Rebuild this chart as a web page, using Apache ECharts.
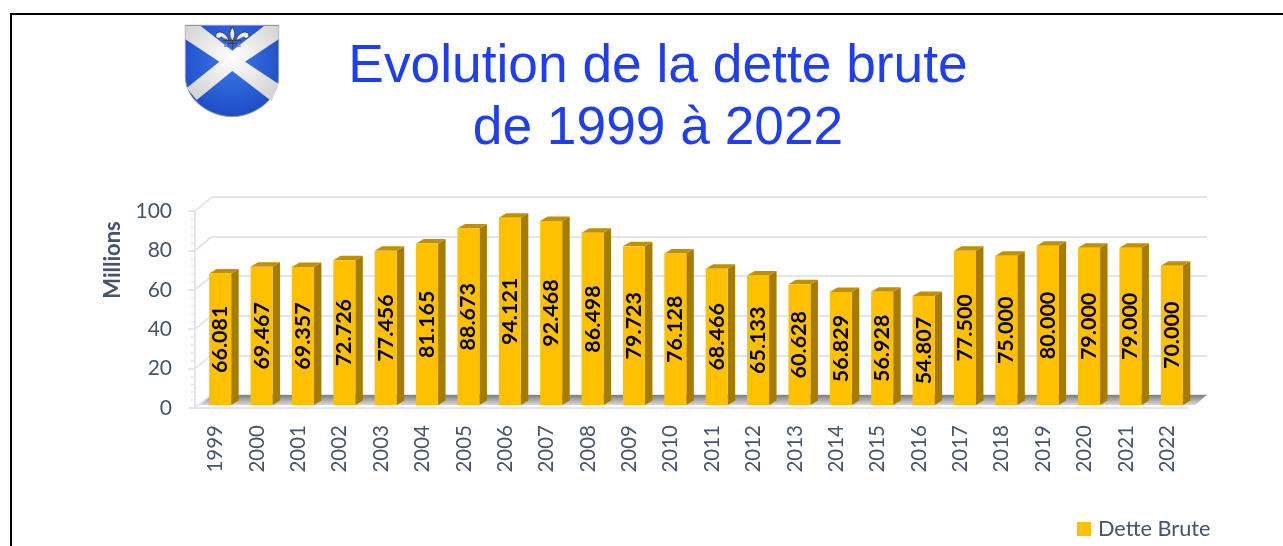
<!DOCTYPE html>
<html><head><meta charset="utf-8">
<style>html,body{margin:0;padding:0;background:#fff}#c{width:1283px;height:546px}</style>
<script src="https://cdn.jsdelivr.net/npm/echarts@6/dist/echarts.min.js"></script>
</head><body><div id="c"></div>
<script>
const years = ['1999','2000','2001','2002','2003','2004','2005','2006','2007','2008','2009','2010','2011','2012','2013','2014','2015','2016','2017','2018','2019','2020','2021','2022'];
const dette = [66.081,69.467,69.357,72.726,77.456,81.165,88.673,94.121,92.468,86.498,79.723,76.128,68.466,65.133,60.628,56.829,56.928,54.807,77.5,75,80,79,79,70];
const wallTicks = [0,20,40,60,80,100];
const titleText = 'Evolution de la dette brute\nde 1999 à 2022';
const seriesName = 'Dette Brute';
const yName = 'Millions';

const SLATE = '#44546A', WALL = '#E3E6EE', FONT = 'Lato';
const chart = echarts.init(document.getElementById('c'), null, {renderer:'canvas'});

const salt = 'M46,48 L92,48 L187,122 L282,48 L326,48 L326,88 L225,155 L326,222 L305,274 L187,183 L80,270 L50,234 L148,155 L46,88 Z';
const shield = 'M46,46 L326,46 L326,200 C326,270 250,320 187,320 C120,320 46,270 46,200 Z';
const fleur = 'M187,52 C176,66 178,82 187,92 C196,82 198,66 187,52 Z M176,90 C170,70 148,58 138,72 C134,84 148,90 154,80 M198,90 C204,70 226,58 236,72 C240,84 226,90 220,80 M160,92 L214,92 M172,100 L202,100 M187,92 L187,116 M176,100 C172,108 166,110 162,108 M198,100 C202,108 208,110 212,108';
echarts.graphic.registerShape('logoShield', echarts.graphic.extendPath(shield));
echarts.graphic.registerShape('logoSaltire', echarts.graphic.extendPath(salt));
echarts.graphic.registerShape('logoFleur', echarts.graphic.extendPath(fleur));

chart.setOption({
  animation:false,
  backgroundColor:'#fff',
  title:{text:titleText,left:653,top:31,textAlign:'center',
    textStyle:{fontFamily:'Liberation Sans',fontSize:53.3,fontWeight:'normal',color:'#1F3FEF',lineHeight:62}},
  legend:{left:1072,top:513,itemWidth:14,itemHeight:14,itemGap:7,data:[{name:seriesName,icon:'rect'}],
    textStyle:{fontFamily:FONT,fontSize:21.7,color:SLATE,padding:[0,0,0,2]}},
  grid:[
    {left:195,top:211,width:993,height:197},
    {left:212,top:197,width:995,height:198},
    {left:199.5,top:206,width:993,height:199}
  ],
  xAxis:[
    {gridIndex:0,type:'category',data:years,axisTick:{show:false},
      axisLine:{lineStyle:{color:WALL,width:2}},
      axisLabel:{interval:0,rotate:90,margin:17,fontFamily:FONT,fontSize:20.5,color:SLATE}},
    {gridIndex:1,type:'category',data:years,show:false},
    {gridIndex:2,type:'category',data:years,show:false}
  ],
  yAxis:[
    {gridIndex:0,type:'value',min:0,max:100,interval:20,splitLine:{show:false},
      axisLine:{show:true,lineStyle:{color:WALL,width:2}},
      axisTick:{show:true,length:7,lineStyle:{color:WALL,width:2}},
      minorTick:{show:true,splitNumber:5,length:4,lineStyle:{color:WALL,width:1.5}},
      axisLabel:{margin:23,padding:[10,0,0,0],fontFamily:FONT,fontSize:21,color:SLATE}},
    {gridIndex:1,type:'value',min:0,max:100,interval:20,
      axisLine:{show:false},axisTick:{show:false},axisLabel:{show:false},
      splitLine:{show:true,lineStyle:{color:WALL,width:2}}},
    {gridIndex:2,type:'value',min:0,max:100,show:false,splitLine:{show:false}}
  ],
  graphic:[
    {type:'polyline',silent:true,shape:{points:[[11,546],[11,14],[1283,14]]},style:{stroke:'#000',lineWidth:2,fill:null}},
    {type:'text',x:113,y:260,rotation:Math.PI/2,silent:true,
      style:{text:yName,fontFamily:FONT,fontSize:22,fontWeight:'bold',fill:SLATE,textAlign:'center',textVerticalAlign:'middle'}},
    {type:'group',x:170,y:10,scaleX:1/3,scaleY:1/3,silent:true,children:[
      {type:'logoShield',style:{stroke:'#9a9a9a',lineWidth:3,
        fill:{type:'radial',x:0.5,y:0.4,r:0.65,colorStops:[{offset:0,color:'#3E78E6'},{offset:1,color:'#1B49C4'}]}}},
      {type:'logoSaltire',style:{
        fill:{type:'radial',x:0.5,y:0.4,r:0.7,colorStops:[{offset:0,color:'#FFFFFF'},{offset:1,color:'#D5D5D5'}]}}},
      {type:'logoFleur',style:{fill:'rgba(255,255,255,0.9)',stroke:'#3a3a3a',lineWidth:3}}
    ]}
  ],
  series:[
    {type:'custom',name:'floor',silent:true,xAxisIndex:2,yAxisIndex:2,z:1,data:[0],encode:{y:0},
      renderItem:(p,api)=>{
        const g=p.coordSys, b=g.y+g.height, r=g.x+g.width;
        return {type:'polygon',shape:{points:[[g.x,b],[g.x+11,b-10],[r+14,b-10],[r+3,b]]},
          style:{fill:{type:'linear',x:0,y:0,x2:0,y2:1,colorStops:[{offset:0,color:'#7D7D7D'},{offset:1,color:'#D8D8D8'}]}}};
      }},
    {type:'custom',name:'wall',silent:true,xAxisIndex:0,yAxisIndex:0,z:1,data:wallTicks,encode:{y:0},
      renderItem:(p,api)=>{
        const g=p.coordSys, y=api.coord([0,api.value(0)])[1];
        return {type:'line',shape:{x1:g.x,y1:y,x2:g.x+17,y2:y-14},style:{stroke:WALL,lineWidth:2}};
      }},
    {type:'custom',name:seriesName,xAxisIndex:2,yAxisIndex:2,z:3,
      itemStyle:{color:'#FFC000'},
      data:dette.map((v,i)=>[i,v]),encode:{x:0,y:1},
      renderItem:(p,api)=>{
        const w=22, dx=7.5, dy=4.5, v=api.value(1);
        const top=api.coord([api.value(0),v]), base=api.coord([api.value(0),0]);
        const l=top[0]-w/2, r=top[0]+w/2, t=top[1], b=base[1];
        return {type:'group',children:[
          {type:'polygon',shape:{points:[[r,t],[r+dx,t-dy],[r+dx,b-dy],[r,b]]},style:{fill:'#A67C00'}},
          {type:'polygon',shape:{points:[[l,t],[l+dx,t-dy],[r+dx,t-dy],[r,t]]},style:{fill:'#BF9000'}},
          {type:'rect',shape:{x:l,y:t,width:w,height:b-t},style:{fill:'#FFC000'}},
          {type:'text',x:top[0],y:(t+b)/2,rotation:Math.PI/2,
            style:{text:v.toFixed(3),fontFamily:FONT,fontSize:21.5,fontWeight:'bold',fill:'#000',align:'center',verticalAlign:'middle'}}
        ]};
      }}
  ]
});
</script></body></html>
